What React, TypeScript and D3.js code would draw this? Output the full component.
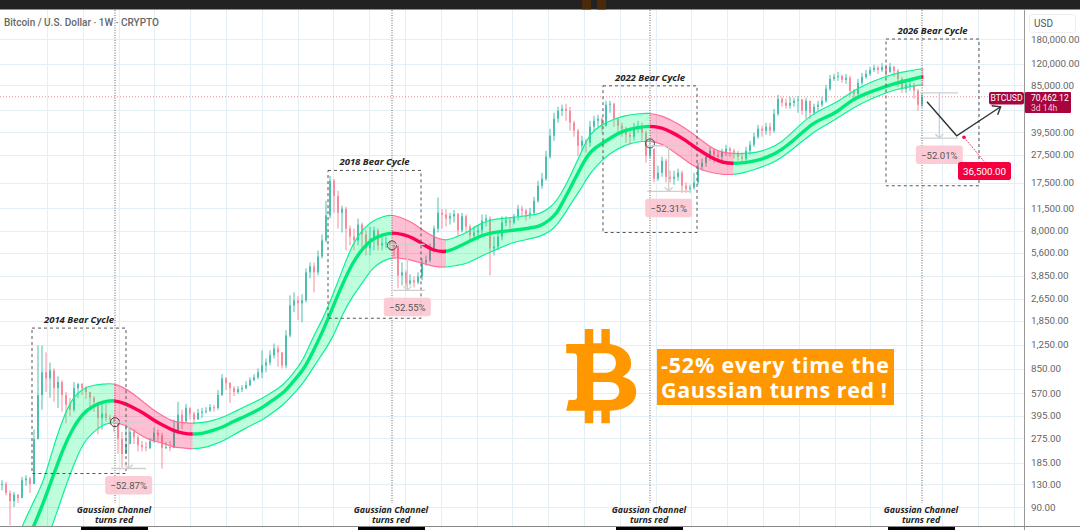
import React from "react";
import * as d3 from "d3";

const W = 1080;
const H = 530;

const priceTicks = [180000, 120000, 85000, 57000, 39500, 27500, 17500, 11500, 8000, 5600, 3850, 2650, 1850, 1250, 850, 570, 395, 275, 185, 130, 90];
const lastPrice = 70462.12;
const targetPrice = 36500;

// three-week candles
const closes = [
  131, 113, 99, 110, 104, 139, 143, 131, 271, 555,
  802, 728, 828, 620, 685, 555, 473, 437, 620, 662,
  620, 583, 530, 497, 382, 410, 382, 372, 350, 271,
  213, 250, 305, 280, 246, 238, 234, 263, 301, 288,
  235, 238, 235, 305, 403, 360, 450, 410, 372, 416,
  423, 430, 455, 450, 555, 728, 673, 620, 583, 610,
  620, 651, 706, 740, 802, 897, 940, 1057, 1180, 1108,
  897, 1460, 2380, 2580, 2460, 2580, 4070, 4480, 4070, 5270,
  6830, 10250, 18000, 14100, 10700, 11400, 8290, 7280, 6830, 8850,
  7520, 6000, 7050, 8030, 6300, 6500, 6610, 6400, 6190, 3870,
  4070, 3400, 3570, 3460, 3810, 4780, 4940, 5810, 8290, 10700,
  10400, 9750, 10100, 10500, 8030, 10100, 8560, 7400, 7770, 8030,
  9440, 9750, 6000, 6190, 7280, 9140, 9440, 9140, 10100, 11400,
  11100, 10400, 10700, 13000, 16600, 18600, 26600, 37400, 49300, 56100,
  58000, 56100, 46200, 40600, 31800, 34500, 33400, 43300, 47700, 49300,
  44000, 61900, 62900, 49300, 44000, 41900, 38000, 36800, 42600, 44000,
  39300, 27000, 30300, 18600, 20500, 24900, 19200, 18600, 19200, 20500,
  16600, 15800, 16100, 17500, 22600, 24100, 26600, 29300, 27500, 26600,
  28800, 30300, 29300, 28400, 26600, 25800, 29300, 32300, 36800, 41900,
  40600, 43300, 40600, 53400, 68200, 63900, 60900, 63900, 66000, 67100,
  56100, 66000, 54300, 59900, 61900, 66000, 80100, 94200, 97300, 98900,
  92700, 95800, 77600, 73900, 88300, 97300, 102100, 109000, 112600, 109000,
  114500, 105500, 114500, 107200, 94200, 80100, 85500, 85500, 77600, 61900, 70462,
];
const highs = [
  139, 135, 118, 115, 111, 147, 151, 147, 317, 1240,
  1240, 1108, 940, 855, 752, 706, 583, 530, 685, 673,
  673, 640, 583, 546, 488, 497, 480, 403, 393, 327,
  305, 344, 327, 317, 288, 263, 258, 276, 327, 317,
  301, 258, 263, 372, 497, 437, 480, 455, 423, 443,
  450, 455, 480, 473, 601, 778, 740, 685, 640, 640,
  651, 695, 740, 778, 855, 1145, 1005, 1145, 1280, 1240,
  1108, 1590, 2800, 2940, 2760, 2850, 4340, 4780, 4780, 5810,
  7520, 13000, 19500, 18600, 15300, 12000, 11800, 8700, 8290, 9750,
  9140, 8030, 8560, 8560, 8290, 7280, 7280, 6830, 6610, 6300,
  4780, 4200, 3940, 3810, 4070, 5100, 5350, 6500, 8700, 13700,
  11400, 11400, 10700, 11200, 10700, 10700, 10400, 8850, 8560, 8700,
  10400, 10400, 10100, 7280, 7770, 10100, 10100, 9900, 10500, 12200,
  12000, 11400, 11600, 13900, 18000, 20500, 29300, 41900, 54300, 59900,
  61900, 62900, 59900, 47700, 41900, 37400, 35600, 47700, 51700, 52600,
  50900, 66000, 66000, 63900, 49300, 46200, 43300, 41900, 46200, 47700,
  46200, 40600, 33400, 30300, 23000, 26600, 25800, 21200, 21200, 21900,
  21200, 17500, 16900, 20500, 24100, 25800, 28400, 31300, 30300, 29300,
  30300, 32300, 31300, 30300, 29300, 28400, 31300, 34500, 39300, 44700,
  44000, 46200, 46200, 58000, 72700, 70400, 68200, 70400, 69300, 71500,
  68200, 69300, 63900, 62900, 66000, 70400, 85500, 100500, 102100, 105500,
  100500, 102100, 98900, 80100, 94200, 103800, 109000, 114500, 118300, 116400,
  122200, 118300, 122200, 116400, 110800, 97300, 91200, 92700, 88300, 80100, 75100,
];
const lows = [
  118, 109, 67, 90, 96, 104, 127, 113, 131, 271,
  437, 583, 530, 497, 450, 423, 350, 393, 423, 530,
  555, 520, 437, 423, 293, 317, 360, 344, 305, 213,
  172, 213, 250, 250, 222, 222, 222, 231, 254, 263,
  168, 231, 222, 234, 293, 317, 393, 372, 344, 382,
  382, 410, 423, 423, 437, 546, 601, 488, 546, 565,
  583, 610, 640, 695, 717, 728, 802, 897, 1005, 880,
  855, 855, 1415, 2130, 1870, 1810, 2500, 3690, 2940, 3870,
  5100, 6610, 9750, 10700, 8290, 7770, 5810, 6300, 5810, 6300,
  6000, 5350, 5350, 5810, 5810, 5810, 6000, 5810, 5270, 3140,
  3290, 3190, 3290, 3190, 3350, 3570, 4550, 4780, 5620, 7770,
  8290, 8560, 8850, 9140, 7400, 7770, 7770, 6830, 7050, 6830,
  7520, 8560, 3870, 5350, 5810, 6830, 8560, 8290, 8850, 9440,
  10100, 9440, 9750, 10400, 12600, 15800, 18000, 25800, 34500, 46200,
  51700, 47700, 40600, 36800, 27000, 29300, 28400, 31300, 40600, 43300,
  39300, 43300, 54300, 43300, 39300, 36800, 33400, 32300, 34500, 39300,
  34500, 24100, 25800, 17500, 18000, 19200, 17500, 17500, 16900, 18000,
  14800, 14800, 14800, 15600, 16900, 21200, 22600, 24900, 24100, 24100,
  24900, 27000, 26600, 25800, 24900, 24100, 24900, 27500, 31300, 35600,
  36800, 38000, 37400, 39300, 51700, 59900, 58000, 58000, 59900, 54300,
  52600, 49300, 49300, 52600, 56100, 59900, 63900, 77600, 91200, 91200,
  88300, 86900, 71500, 69300, 71500, 85500, 94200, 98900, 105500, 102100,
  105500, 97300, 103800, 97300, 82800, 75100, 75100, 77600, 68200, 56100, 59900,
];

// Gaussian channel, by week from the left of the chart
const channelWeeks = [
  15, 23, 31, 38, 46, 53, 61, 68, 76, 83,
  91, 98, 106, 113, 121, 128, 136, 143,
  151, 158, 166, 173, 181, 188, 196, 203, 211, 218,
  226, 233, 241, 248, 256, 263, 271, 278, 286, 293,
  301, 308, 316, 323, 333, 341, 349, 356, 364, 374,
  383, 394, 404, 411, 416, 422, 428, 434, 441, 451,
  458, 466, 476, 486,
  495, 503, 511, 518, 526, 533, 541, 548,
  557, 566, 575, 584, 596, 608, 617, 626, 638, 653,
  671, 681, 687, 690, 692,
];
const channelUpper = [
  65, 96, 133, 231, 387, 535, 620, 651, 662, 673,
  629, 570, 497, 437, 393, 360, 355, 350,
  355, 366, 387, 416, 455, 488, 530, 583, 651, 778,
  974, 1415, 1930, 2800, 4400, 6500, 8290, 9440, 10100, 10400,
  9750, 9140, 8030, 7280, 6720, 7280, 7770, 8700, 9440, 9750,
  9900, 10250, 10500, 11640, 13000, 16100, 21200, 28000, 39300, 45400,
  48500, 51700, 53400, 54300,
  51700, 47700, 43300, 38700, 33900, 30300, 28400, 28000,
  28000, 28400, 30300, 32900, 42600, 53400, 58900, 63900, 77600, 91200,
  103800, 107200, 110000, 110800, 110800,
];
const channelMid = [
  43.4, 62.9, 96, 146, 235, 323, 416, 463, 497, 512,
  488, 455, 416, 372, 338, 312, 297, 293,
  297, 312, 329, 360, 387, 416, 455, 512, 570, 685,
  828, 1108, 1590, 2301, 3460, 4780, 6086, 7050, 7520, 7770,
  7520, 7157, 6400, 5810, 5620, 6086, 6610, 7157, 7640, 7900,
  8030, 8290, 8560, 9590, 10500, 13500, 17200, 22300, 29300, 33400,
  37000, 40600, 42600, 44000,
  42600, 39300, 35600, 31800, 28400, 25800, 24100, 23800,
  24100, 24900, 26600, 29300, 36200, 46000, 50100, 54300, 68200, 77600,
  88300, 92700, 95800, 97300, 97300,
];
const channelLower = [
  23.7, 32.4, 46.9, 67, 113, 172, 258, 301, 344, 360,
  344, 317, 280, 263, 254, 238, 235, 231,
  235, 246, 263, 288, 317, 344, 372, 416, 473, 555,
  673, 855, 1108, 1400, 2130, 2760, 3510, 4400, 4940, 5175,
  5100, 4940, 4700, 4480, 4400, 4550, 4700, 5100, 5530, 6086,
  6610, 6950, 7280, 7900, 8700, 10500, 13000, 15600, 20500, 25800,
  28800, 31800, 33900, 34500,
  32900, 29300, 25800, 23000, 21200, 20500, 19900, 19900,
  20500, 21900, 23400, 25800, 31800, 39300, 44000, 49300, 58900, 69300,
  80100, 82800, 85000, 85500, 85500,
];
const redStarts = [84, 292.5, 486, 689.6];
const redEnds = [143, 333, 548.7, 691];
const crossWeeks = [84.75, 292.5, 486, 690];
const crossPrices = [357, 6300, 33000];

// cycle boxes
const cycleNames = ["2014 Bear Cycle", "2018 Bear Cycle", "2022 Bear Cycle", "2026 Bear Cycle"];
const cycleLeft = [22.5, 244.5, 450.75, 663];
const cycleRight = [93, 314.25, 521.25, 732.75];
const cycleTop = [1645, 21300, 84100, 180000];
const cycleBottom = [155, 1930, 7770, 16600];

// price-range measures
const measureFrom = [82, 292.5, 484, 688.5];
const measureTo = [108, 317, 516, 717];
const measureCentre = [95, 304, 500, 703];
const measureTop = [357, 6400, 31800, 75100];
const measurePct = [52.87, 52.55, 52.31, 52.01];

// 2026 projection
const pathWeeks = [693.75, 716, 749];
const pathPrices = [65000, 37400, 59900];

const x = d3.scaleLinear().domain([0, 690]).range([2, 922]);
const y = d3.scaleLog().domain([90, 180000]).range([507, 39]);
const gridWeeks = d3.range(33.75, 760, 26.85);

const FONT = "Roboto, 'Open Sans', sans-serif";
const ITALIC = "'Open Sans', sans-serif";

const green = "#4cbfae";
const red = "#f78d9b";

const pts = channelWeeks.map((w, i) => ({ w, u: channelUpper[i], m: channelMid[i], l: channelLower[i] }));
const area = d3
  .area<(typeof pts)[number]>()
  .x((d) => x(d.w))
  .y0((d) => y(d.l))
  .y1((d) => y(d.u))
  .curve(d3.curveBasis);
const line = (k: "u" | "m" | "l") =>
  d3
    .line<(typeof pts)[number]>()
    .x((d) => x(d.w))
    .y((d) => y(d[k]))
    .curve(d3.curveBasis)(pts) as string;

function ChannelLayer({ fill, edge, mid }: { fill: string; edge: string; mid: string }) {
  return (
    <g>
      <path d={area(pts) as string} fill={fill} />
      <path d={line("u")} fill="none" stroke={edge} strokeWidth={1.2} />
      <path d={line("l")} fill="none" stroke={edge} strokeWidth={1.2} />
      <path d={line("m")} fill="none" stroke={mid} strokeWidth={3.4} />
    </g>
  );
}

const bitcoinPath =
  "M48,72 L103,72 L103,27 L128,27 L128,70 L152,70 L152,27 L177,27 L177,72 C215,78 240,100 240,130 C240,150 230,162 215,170 C245,178 255,195 255,215 C255,250 225,270 177,272 L177,310 L152,310 L152,272 L128,272 L128,310 L103,310 L103,272 L48,272 L55,240 L70,240 C78,240 80,235 80,230 L80,115 C80,105 78,100 68,100 L48,100 Z M128,100 L128,158 L165,158 C185,158 195,145 195,130 C195,113 185,100 165,100 Z M128,186 L128,240 L175,240 C195,240 205,228 205,213 C205,198 195,186 175,186 Z";

const greenSpans = redStarts.map((s, i) => [i === 0 ? 0 : redEnds[i - 1], s]);

export default function App() {
  return (
    <svg
      width={W}
      height={H}
      viewBox={`0 0 ${W} ${H}`}
      style={{ position: "fixed", left: 0, top: 0, display: "block", background: "#fff" }}
    >
      <defs>
        <clipPath id="pane">
          <rect x={0} y={10} width={1024} height={516} />
        </clipPath>
        <clipPath id="greenSpans">
          {greenSpans.map(([a, b]) => (
            <rect key={a} x={x(a)} y={0} width={x(b) - x(a)} height={526} />
          ))}
        </clipPath>
        <clipPath id="redSpans">
          {redStarts.map((s, i) => (
            <rect key={s} x={x(s)} y={0} width={x(redEnds[i]) - x(s)} height={526} />
          ))}
        </clipPath>
      </defs>

      {/* grid */}
      <g stroke="#e4eef5" strokeWidth={1}>
        {priceTicks.map((t) => (
          <line key={t} x1={0} x2={1024} y1={Math.round(y(t)) + 0.5} y2={Math.round(y(t)) + 0.5} />
        ))}
        {gridWeeks.map((w) => (
          <line key={w} x1={Math.round(x(w)) + 0.5} x2={Math.round(x(w)) + 0.5} y1={10} y2={526} />
        ))}
      </g>

      <g clipPath="url(#pane)">
        {/* last price line */}
        <line x1={0} x2={1024} y1={y(lastPrice)} y2={y(lastPrice)} stroke="#f28a98" strokeWidth={1} strokeDasharray="1 2" />

        {/* candles */}
        {closes.map((c, i) => {
          const o = i === 0 ? c : closes[i - 1];
          const cx = x(i * 3);
          const col = c >= o ? green : red;
          const top = y(Math.max(o, c));
          const bot = y(Math.min(o, c));
          return (
            <g key={i}>
              <line x1={cx} x2={cx} y1={y(highs[i])} y2={y(lows[i])} stroke={col} strokeWidth={1} />
              <rect x={cx - 1} y={top} width={2} height={Math.max(bot - top, 1)} fill={col} />
            </g>
          );
        })}

        {/* Gaussian channel */}
        <g clipPath="url(#greenSpans)">
          <ChannelLayer fill="rgba(0,250,120,0.25)" edge="#0cf096" mid="#00ea7a" />
        </g>
        <g clipPath="url(#redSpans)">
          <ChannelLayer fill="rgba(255,0,80,0.25)" edge="#ff6f98" mid="#ff0055" />
        </g>

        {/* cycle boxes */}
        {cycleNames.map((n, i) => (
          <rect
            key={n}
            x={x(cycleLeft[i])}
            y={y(cycleTop[i])}
            width={x(cycleRight[i]) - x(cycleLeft[i])}
            height={y(cycleBottom[i]) - y(cycleTop[i])}
            fill="none"
            stroke="#555"
            strokeWidth={1}
            strokeDasharray="3 3"
          />
        ))}

        {/* red-turn markers */}
        {crossWeeks.map((w) => (
          <line key={w} x1={x(w)} x2={x(w)} y1={10} y2={503} stroke="#666" strokeWidth={1} strokeDasharray="1 1.5" />
        ))}
        {crossPrices.map((p, i) => (
          <circle key={p} cx={x(crossWeeks[i])} cy={y(p)} r={4.5} fill="none" stroke="#444" strokeWidth={1} />
        ))}

        {/* measures */}
        {measureTop.map((top, i) => {
          const bottom = top * (1 - measurePct[i] / 100);
          const cx = x(measureCentre[i]);
          const yb = y(bottom);
          return (
            <g key={top}>
              <g stroke="#cfcfcf" strokeWidth={1.3} fill="none">
                <line x1={x(measureFrom[i])} x2={x(measureTo[i])} y1={y(top)} y2={y(top)} />
                <line x1={x(measureFrom[i])} x2={x(measureTo[i])} y1={yb} y2={yb} />
                <line x1={cx} x2={cx} y1={y(top)} y2={yb} />
                <path d={`M${cx - 4},${yb - 4} L${cx},${yb} L${cx + 4},${yb - 4}`} />
              </g>
              <rect x={cx - 23.5} y={yb + 7.5} width={47} height={18.5} rx={3} fill="#fbc6d0" fillOpacity={0.9} />
              <text x={cx} y={yb + 17} textAnchor="middle" dominantBaseline="central" fontFamily={FONT} fontSize={9.6} fill="#555">
                {`\u2212${measurePct[i].toFixed(2)}%`}
              </text>
            </g>
          );
        })}

        {/* projection */}
        <path
          d={d3.line<number>().x((w) => x(w)).y((_, i) => y(pathPrices[i]))(pathWeeks) as string}
          fill="none"
          stroke="#333"
          strokeWidth={1.4}
        />
        <path d={`M${x(pathWeeks[2]) - 9},${y(pathPrices[2]) - 1} L${x(pathWeeks[2])},${y(pathPrices[2])} L${x(pathWeeks[2]) - 3},${y(pathPrices[2]) + 8}`} fill="none" stroke="#333" strokeWidth={1.4} />

        {/* target */}
        <circle cx={964} cy={y(targetPrice)} r={1.8} fill="#f0003c" />
        <line x1={964} x2={984} y1={y(targetPrice)} y2={y(targetPrice) + 24} stroke="#f2506f" strokeWidth={1} strokeDasharray="2 1" />
      </g>

      <rect x={958} y={162} width={53} height={18} rx={2.5} fill="#f5003d" />
      <text x={984.5} y={171.5} textAnchor="middle" dominantBaseline="central" fontFamily={FONT} fontSize={9.8} fill="#fff">
        {d3.format(",.2f")(targetPrice)}
      </text>

      {/* cycle titles */}
      {cycleNames.map((n, i) => (
        <text
          key={n}
          x={(x(cycleLeft[i]) + x(cycleRight[i])) / 2}
          y={y(cycleTop[i]) - 5}
          textAnchor="middle"
          fontFamily={ITALIC}
          fontStyle="italic"
          fontWeight={700}
          fontSize={9.5}
          fill="#222"
        >
          {n}
        </text>
      ))}
      {crossWeeks.map((w) => (
        <g key={w} fontFamily={ITALIC} fontStyle="italic" fontWeight={700} fontSize={8.8} fill="#222" textAnchor="middle">
          <text x={x(w) - 1} y={512.5}>Gaussian Channel</text>
          <text x={x(w) - 1} y={523}>turns red</text>
        </g>
      ))}

      {/* Bitcoin logo and callout */}
      <path d={bitcoinPath} fillRule="evenodd" fill="#ff9800" transform="translate(550,320) scale(0.338,0.3333)" />
      <rect x={657} y={349} width={237} height={56} fill="#ff9800" />
      <g fontFamily="'Open Sans', sans-serif" fontWeight={700} fontSize={21.5} fill="#fff" lengthAdjust="spacing">
        <text x={661} y={372.5} textLength={228}>-52% every time the</text>
        <text x={661} y={398} textLength={226}>Gaussian turns red !</text>
      </g>

      {/* header */}
      <text x={4} y={26} fontFamily={FONT} fontWeight={500} fontSize={10} fill="#666">
        Bitcoin / U.S. Dollar · 1W · CRYPTO
      </text>

      {/* price axis */}
      <line x1={1024.5} x2={1024.5} y1={10} y2={530} stroke="#999" strokeWidth={1} />
      <rect x={1029.5} y={14.5} width={46} height={18} rx={3} fill="#fff" stroke="#eee" />
      <text x={1034} y={23.5} dominantBaseline="central" fontFamily={FONT} fontSize={10} fill="#555">
        USD
      </text>
      {priceTicks.filter((t) => t !== 57000).map((t) => (
        <text key={t} x={1031} y={y(t)} dominantBaseline="central" fontFamily={FONT} fontSize={9.8} fill="#666">
          {d3.format(",.2f")(t)}
        </text>
      ))}
      <rect x={989} y={92} width={35} height={12.5} rx={2} fill="#a8043d" />
      <text x={1006.5} y={98.3} textAnchor="middle" dominantBaseline="central" fontFamily={FONT} fontSize={8.6} fill="#fff">
        BTCUSD
      </text>
      <rect x={1025} y={92} width={46} height={21} rx={1} fill="#a8043d" />
      <text x={1031} y={97.5} dominantBaseline="central" fontFamily={FONT} fontSize={8.6} fill="#fff">
        {d3.format(",.2f")(lastPrice)}
      </text>
      <text x={1031} y={107.5} dominantBaseline="central" fontFamily={FONT} fontSize={8.6} fill="#f3c6d3">
        3d 14h
      </text>

      {/* frame */}
      <rect x={0} y={0} width={W} height={9.5} fill="#222" />
      <rect x={582} y={0} width={9} height={9.5} fill="#4a2a08" />
      <rect x={597} y={0} width={9} height={9.5} fill="#4a2a08" />
      <line x1={0} x2={W} y1={526.5} y2={526.5} stroke="#888" />
      {crossWeeks.map((w) => (
        <rect key={w} x={x(w) - 34} y={527} width={67} height={3} fill="#000" />
      ))}
    </svg>
  );
}
